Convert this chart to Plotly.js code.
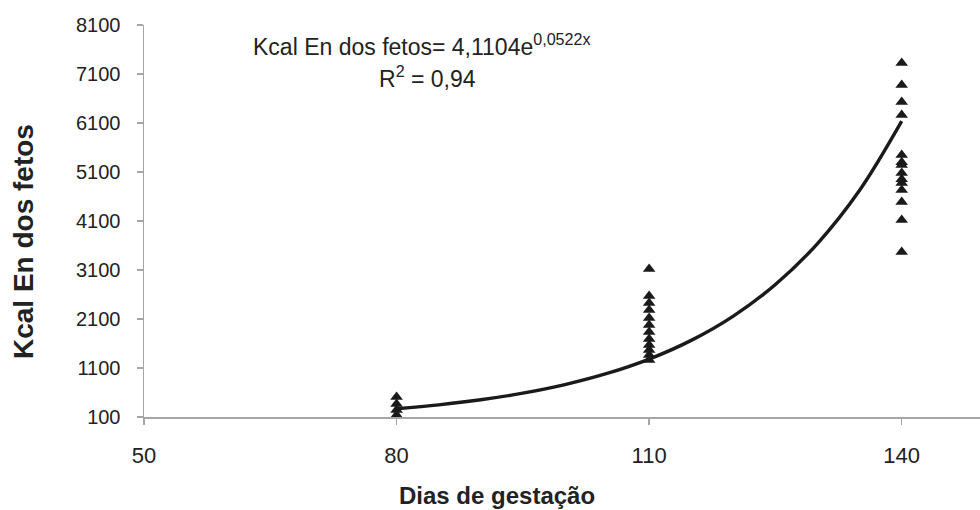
<!DOCTYPE html>
<html>
<head>
<meta charset="utf-8">
<script src="https://cdn.plot.ly/plotly-3.0.1.min.js"></script>
<style>html,body{margin:0;padding:0;background:#fff}#chart{width:980px;height:510px}</style>
</head>
<body>
<div id="chart"></div>
<script>
// Observed data (Dias de gestação vs Kcal En dos fetos)
const days80 = [80, 80, 80, 80];
const kcal80 = [508, 365, 243, 141];
const days110 = [110, 110, 110, 110, 110, 110, 110, 110, 110, 110, 110, 110];
const kcal110 = [3120, 2569, 2427, 2284, 2120, 1978, 1835, 1692, 1569, 1467, 1365, 1263];
const days140 = [140, 140, 140, 140, 140, 140, 140, 140, 140, 140, 140, 140, 140, 140];
const kcal140 = [7324, 6876, 6529, 6263, 5447, 5300, 5243, 5080, 4950, 4876, 4733, 4488, 4120, 3467];

// Trend line
const trendX = [80, 85, 90, 95, 100, 105, 110, 115, 120, 125, 130, 135, 140];
const trendY = [268, 348, 452, 586, 761, 988, 1282, 1664, 2160, 2804, 3640, 4726, 6137];

const yTicks = [100, 1100, 2100, 3100, 4100, 5100, 6100, 7100, 8100];
const xTicks = [50, 80, 110, 140];

const eqText = 'Kcal En dos fetos= 4,1104e<sup>0,0522x</sup>';
const r2Text = 'R<sup>2</sup> = 0,94';
const xTitle = 'Dias de gestação';
const yTitle = 'Kcal En dos fetos';

const obsX = days80.concat(days110, days140);
const obsY = kcal80.concat(kcal110, kcal140);

const traces = [
  {
    x: trendX, y: trendY, type: 'scatter', mode: 'lines',
    line: {color: '#1a1a1a', width: 3.4, shape: 'spline'},
    hoverinfo: 'skip', showlegend: false
  },
  {
    x: obsX, y: obsY, type: 'scatter', mode: 'markers',
    marker: {symbol: 'triangle-up', size: 11, color: '#1a1a1a', line: {width: 0}},
    showlegend: false, cliponaxis: false
  }
];

const L = 144, T = 25, B = 93, W = 836, H = 392;
const px = (x) => (x - L) / W;
const py = (y) => (510 - B - y) / H;

const layout = {
  width: 980, height: 510,
  margin: {l: L, r: 0, t: T, b: B},
  paper_bgcolor: '#ffffff', plot_bgcolor: '#ffffff',
  font: {family: 'Liberation Sans, Arial, sans-serif', color: '#222', size: 16},
  showlegend: false,
  xaxis: {
    range: [50, 149.3], tickvals: xTicks, ticktext: xTicks.map(String),
    showgrid: false, zeroline: false, showline: true, linecolor: '#a6a6a6', linewidth: 1.5,
    ticks: 'outside', ticklen: 6, tickcolor: '#a6a6a6', tickwidth: 1.5,
    ticklabelstandoff: 12,
    tickfont: {size: 22, color: '#222'}
  },
  yaxis: {
    range: [100, 8100], tickvals: yTicks, ticktext: yTicks.map(String),
    showgrid: false, zeroline: false, showline: true, linecolor: '#a6a6a6', linewidth: 1.5,
    ticks: 'outside', ticklen: 6, tickcolor: '#a6a6a6', tickwidth: 1.5,
    ticklabelstandoff: 12,
    tickfont: {size: 20, color: '#222'}
  },
  annotations: [
    {text: eqText, xref: 'paper', yref: 'paper', x: px(422), y: py(45),
     showarrow: false, xanchor: 'center', yanchor: 'middle', font: {size: 23, color: '#222'}},
    {text: r2Text, xref: 'paper', yref: 'paper', x: px(427), y: py(77),
     showarrow: false, xanchor: 'center', yanchor: 'middle', font: {size: 23, color: '#222'}},
    {text: '<b>' + xTitle + '</b>', xref: 'paper', yref: 'paper', x: px(497), y: py(495),
     showarrow: false, xanchor: 'center', yanchor: 'middle', font: {size: 24, color: '#222'}},
    {text: '<b>' + yTitle + '</b>', xref: 'paper', yref: 'paper', x: px(23), y: py(242),
     showarrow: false, xanchor: 'center', yanchor: 'middle', textangle: -90, font: {size: 28, color: '#222'}}
  ]
};

Plotly.newPlot('chart', traces, layout, {displayModeBar: false, staticPlot: true});
</script>
</body>
</html>
